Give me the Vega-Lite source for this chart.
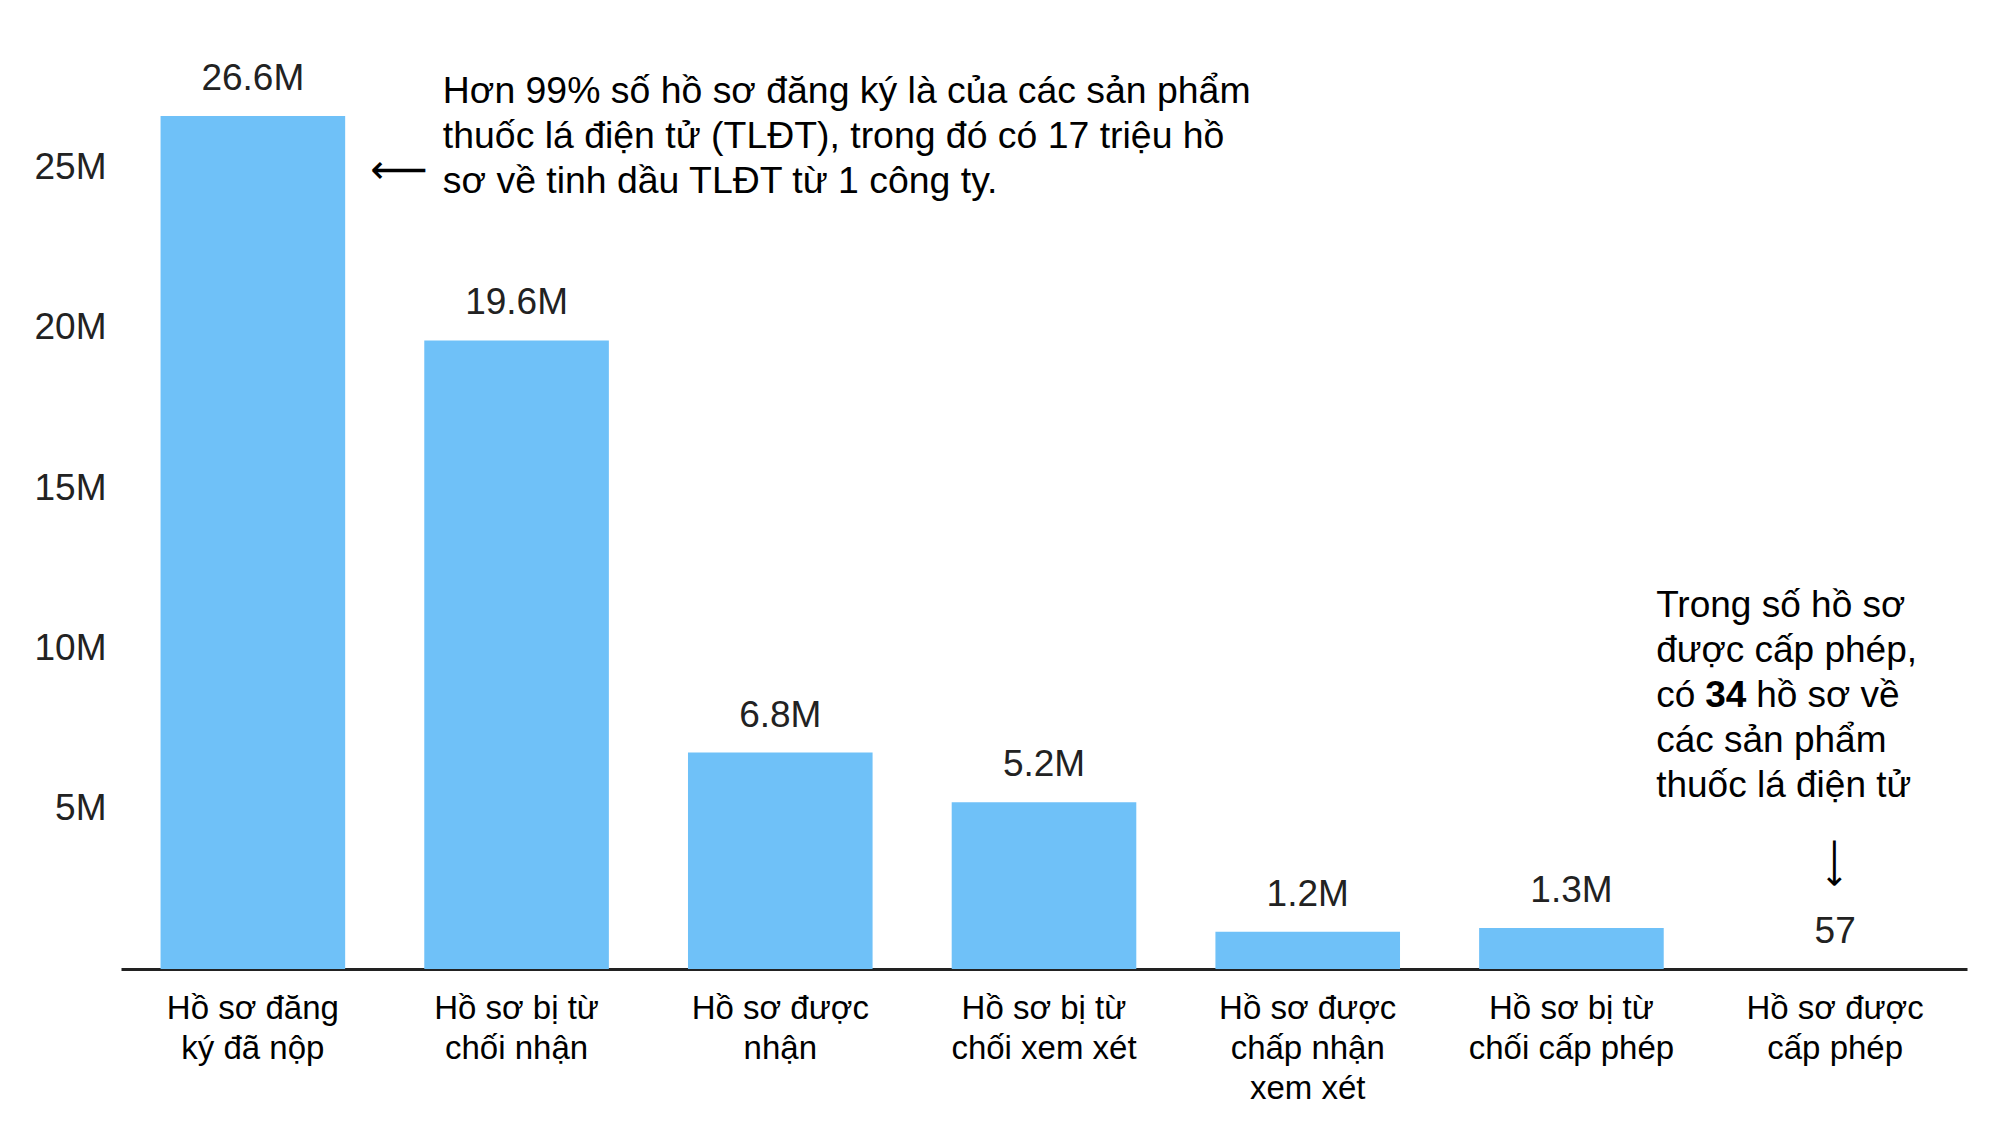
{
  "$schema": "https://vega.github.io/schema/vega-lite/v6.json",
  "width": 1846,
  "height": 962,
  "autosize": {"type": "none"},
  "padding": {"left": 121, "top": 7, "right": 33, "bottom": 153},
  "background": "white",
  "config": {"view": {"stroke": null}, "font": "Liberation Sans"},
  "data": {
    "values": [
      {"stage": "Hồ sơ đăng ký đã nộp", "count": 26600000, "label": "26.6M"},
      {"stage": "Hồ sơ bị từ chối nhận", "count": 19600000, "label": "19.6M"},
      {"stage": "Hồ sơ được nhận", "count": 6750000, "label": "6.8M"},
      {"stage": "Hồ sơ bị từ chối xem xét", "count": 5200000, "label": "5.2M"},
      {"stage": "Hồ sơ được chấp nhận xem xét", "count": 1160000, "label": "1.2M"},
      {"stage": "Hồ sơ bị từ chối cấp phép", "count": 1280000, "label": "1.3M"},
      {"stage": "Hồ sơ được cấp phép", "count": 57, "label": "57"}
    ]
  },
  "layer": [
    {
      "mark": {"type": "bar", "color": "#6fc1f8"},
      "encoding": {
        "x": {
          "field": "stage",
          "type": "nominal",
          "sort": null,
          "scale": {"paddingInner": 0.3, "paddingOuter": 0.15},
          "axis": {
            "title": null,
            "labelAngle": 0,
            "labelExpr": "{'Hồ sơ đăng ký đã nộp': ['Hồ sơ đăng', 'ký đã nộp'], 'Hồ sơ bị từ chối nhận': ['Hồ sơ bị từ', 'chối nhận'], 'Hồ sơ được nhận': ['Hồ sơ được', 'nhận'], 'Hồ sơ bị từ chối xem xét': ['Hồ sơ bị từ', 'chối xem xét'], 'Hồ sơ được chấp nhận xem xét': ['Hồ sơ được', 'chấp nhận', 'xem xét'], 'Hồ sơ bị từ chối cấp phép': ['Hồ sơ bị từ', 'chối cấp phép'], 'Hồ sơ được cấp phép': ['Hồ sơ được', 'cấp phép']}[datum.label]",
            "labelFont": "Liberation Sans",
            "labelFontSize": 33,
            "labelColor": "#000",
            "labelLineHeight": 40,
            "labelBaseline": "top",
            "labelPadding": 23,
            "labelLimit": 400,
            "ticks": false,
            "tickSize": 0,
            "domainColor": "#222",
            "domainWidth": 3,
            "grid": false
          }
        },
        "y": {
          "field": "count",
          "type": "quantitative",
          "scale": {"domain": [0, 30000000]},
          "axis": {
            "title": null,
            "values": [5000000, 10000000, 15000000, 20000000, 25000000],
            "labelExpr": "datum.value / 1000000 + 'M'",
            "labelFont": "Liberation Sans",
            "labelFontSize": 37,
            "labelColor": "#222",
            "labelPadding": 15,
            "ticks": false,
            "tickSize": 0,
            "domain": false,
            "grid": false
          }
        }
      }
    },
    {
      "mark": {"type": "text", "baseline": "alphabetic", "dy": -26, "fontSize": 37, "color": "#222"},
      "encoding": {
        "x": {"field": "stage", "type": "nominal", "sort": null},
        "y": {"field": "count", "type": "quantitative"},
        "text": {"field": "label"}
      }
    },
    {
      "data": {"values": [{}]},
      "mark": {
        "type": "text",
        "align": "left",
        "baseline": "alphabetic",
        "dx": 190,
        "fontSize": 37.4,
        "lineHeight": 45,
        "color": "#000",
        "text": [
          "Hơn 99% số hồ sơ đăng ký là của các sản phẩm",
          "thuốc lá điện tử (TLĐT), trong đó có 17 triệu hồ",
          "sơ về tinh dầu TLĐT từ 1 công ty."
        ]
      },
      "encoding": {
        "x": {"datum": "Hồ sơ đăng ký đã nộp", "type": "nominal"},
        "y": {"datum": 27000000, "type": "quantitative"}
      }
    },
    {
      "data": {"values": [{}]},
      "mark": {"type": "text", "align": "center", "baseline": "middle", "dx": 146, "font": "DejaVu Sans", "fontSize": 40, "color": "#000", "text": "⟵"},
      "encoding": {
        "x": {"datum": "Hồ sơ đăng ký đã nộp", "type": "nominal"},
        "y": {"datum": 24880000, "type": "quantitative"}
      }
    },
    {
      "data": {"values": [{}]},
      "mark": {
        "type": "text",
        "align": "left",
        "baseline": "alphabetic",
        "dx": -179,
        "fontSize": 37,
        "lineHeight": 45,
        "color": "#000",
        "text": ["Trong số hồ sơ", "được cấp phép,"]
      },
      "encoding": {
        "x": {"datum": "Hồ sơ được cấp phép", "type": "nominal"},
        "y": {"datum": 10980000, "type": "quantitative"}
      }
    },
    {
      "data": {"values": [{}]},
      "mark": {"type": "text", "align": "left", "baseline": "alphabetic", "dx": -179, "fontSize": 37, "color": "#000", "text": "có"},
      "encoding": {
        "x": {"datum": "Hồ sơ được cấp phép", "type": "nominal"},
        "y": {"datum": 8170000, "type": "quantitative"}
      }
    },
    {
      "data": {"values": [{}]},
      "mark": {"type": "text", "align": "left", "baseline": "alphabetic", "dx": -130, "fontSize": 37, "fontWeight": "bold", "color": "#000", "text": "34"},
      "encoding": {
        "x": {"datum": "Hồ sơ được cấp phép", "type": "nominal"},
        "y": {"datum": 8170000, "type": "quantitative"}
      }
    },
    {
      "data": {"values": [{}]},
      "mark": {"type": "text", "align": "left", "baseline": "alphabetic", "dx": -79, "fontSize": 37, "color": "#000", "text": "hồ sơ về"},
      "encoding": {
        "x": {"datum": "Hồ sơ được cấp phép", "type": "nominal"},
        "y": {"datum": 8170000, "type": "quantitative"}
      }
    },
    {
      "data": {"values": [{}]},
      "mark": {
        "type": "text",
        "align": "left",
        "baseline": "alphabetic",
        "dx": -179,
        "fontSize": 37,
        "lineHeight": 45,
        "color": "#000",
        "text": ["các sản phẩm", "thuốc lá điện tử"]
      },
      "encoding": {
        "x": {"datum": "Hồ sơ được cấp phép", "type": "nominal"},
        "y": {"datum": 6770000, "type": "quantitative"}
      }
    },
    {
      "data": {"values": [{}]},
      "mark": {"type": "text", "align": "center", "baseline": "middle", "dx": -8, "angle": 270, "font": "DejaVu Sans", "fontSize": 34, "color": "#000", "text": "⟵"},
      "encoding": {
        "x": {"datum": "Hồ sơ được cấp phép", "type": "nominal"},
        "y": {"datum": 3555000, "type": "quantitative"}
      }
    }
  ]
}
